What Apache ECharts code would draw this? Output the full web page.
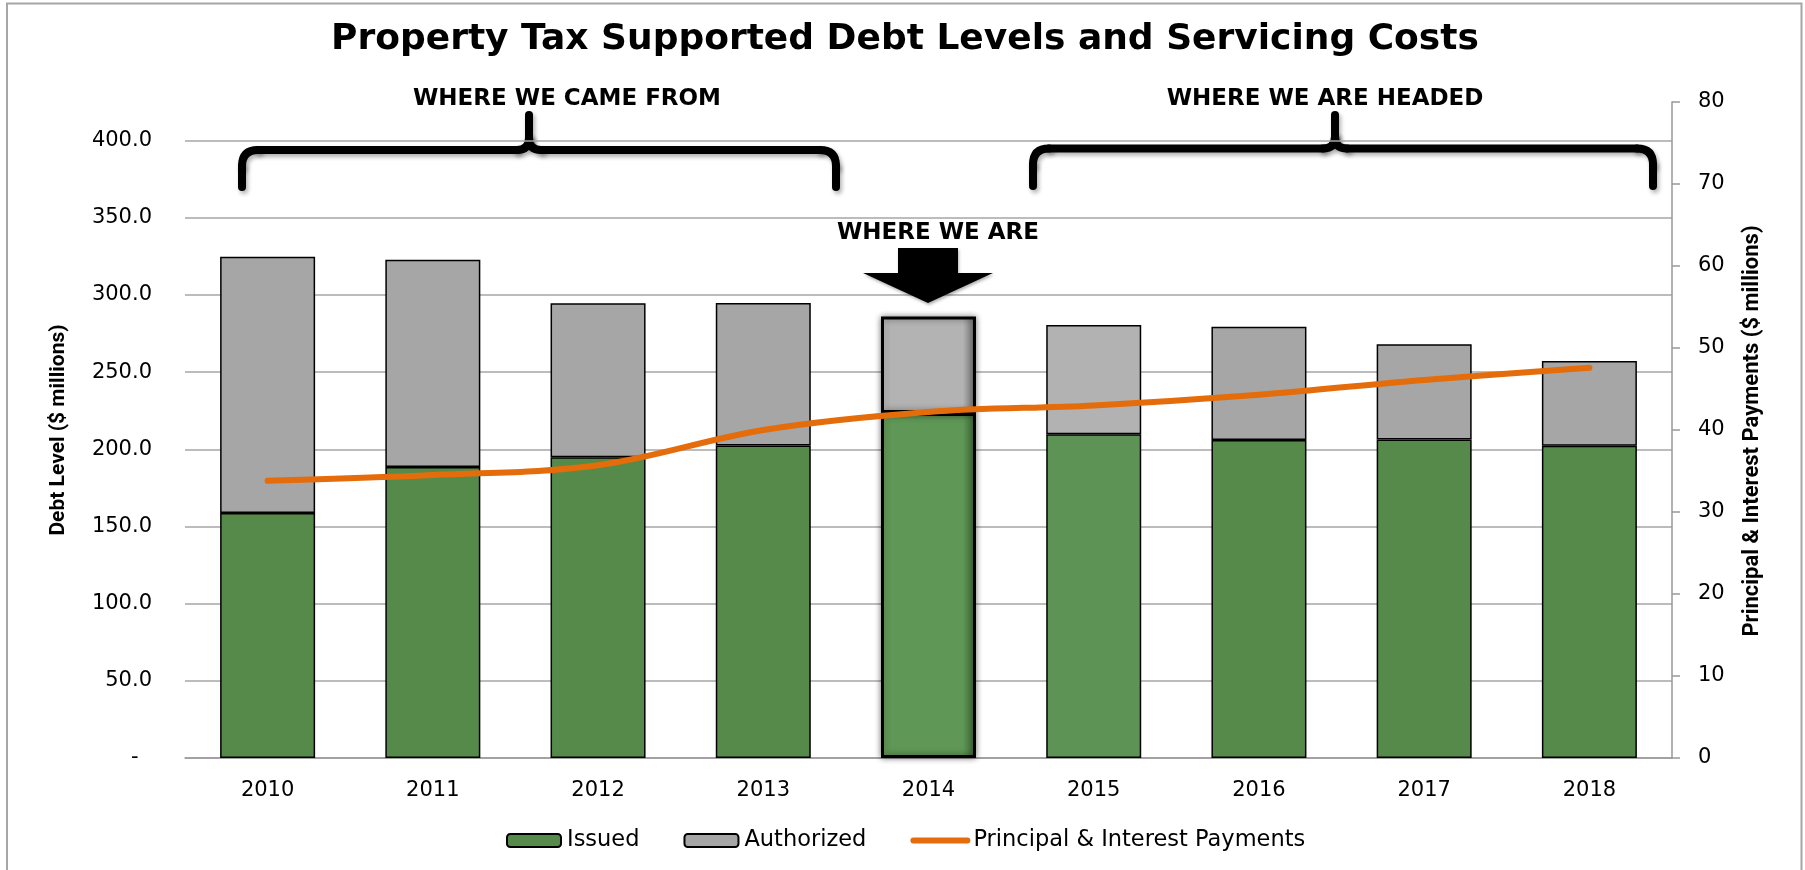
<!DOCTYPE html>
<html>
<head>
<meta charset="utf-8">
<style>
  html, body { margin: 0; padding: 0; background: #fff; }
  #chart { width: 1805px; height: 870px; }
</style>
<script src="https://cdn.jsdelivr.net/npm/echarts@6/dist/echarts.min.js"></script>
</head>
<body>
<div id="chart"></div>
<script>
// Fiscal years shown on the category axis
const years = ['2010', '2011', '2012', '2013', '2014', '2015', '2016', '2017', '2018'];
// Debt issued ($ millions)
const issued = [158.8, 188.6, 194.9, 202.5, 223.5, 209.8, 206.0, 206.4, 202.3];
// Debt authorized but not yet issued ($ millions), stacked on top of issued
const authorized = [166.0, 134.2, 99.7, 92.3, 62.6, 70.7, 73.4, 61.6, 54.9];
// Annual principal & interest payments ($ millions), right axis
const payments = [33.8, 34.5, 35.7, 40.0, 42.2, 43.0, 44.3, 46.1, 47.6];

const currentYear = '2014';
const nextYear = '2015';

const GREEN = '#568a4a';
const GRAY = '#a6a6a6';
const ORANGE = '#e46c0a';
const GRID = '#a6a6a6';
const FONT = 'DejaVu Sans';

function bevel(light, mid, dark) {
  return new echarts.graphic.LinearGradient(0, 0, 1, 0, [
    { offset: 0, color: light },
    { offset: 0.08, color: mid },
    { offset: 0.86, color: mid },
    { offset: 1, color: dark }
  ]);
}

function styledData(values, current, next) {
  return values.map(function (v, i) {
    if (years[i] === currentYear) {
      return { value: v, itemStyle: {
        color: current, borderWidth: 3, borderColor: '#000',
        shadowBlur: 6, shadowColor: 'rgba(0,0,0,0.45)'
      } };
    }
    if (years[i] === nextYear) {
      return { value: v, itemStyle: { color: next } };
    }
    return v;
  });
}

const chart = echarts.init(document.getElementById('chart'), null, { renderer: 'canvas' });

const braceStyle = {
  stroke: '#000', lineWidth: 8, fill: null, lineCap: 'round', lineJoin: 'round',
  shadowBlur: 4, shadowOffsetX: 2, shadowOffsetY: 3, shadowColor: 'rgba(0,0,0,0.3)'
};

// Curly brace built from straight strokes and quadratic corners
function brace(x0, x1, peak, yH, yEnd, yTop) {
  const r = 16, c = 12;
  const seg = function (type, shape) {
    return { type: type, shape: shape, style: braceStyle, silent: true };
  };
  return {
    type: 'group', z: 90, silent: true,
    children: [
      seg('line', { x1: x0, y1: yEnd, x2: x0, y2: yH + r }),
      seg('bezierCurve', { x1: x0, y1: yH + r, cpx1: x0, cpy1: yH, x2: x0 + r, y2: yH }),
      seg('line', { x1: x0 + r, y1: yH, x2: peak - c, y2: yH }),
      seg('bezierCurve', { x1: peak - c, y1: yH, cpx1: peak, cpy1: yH, x2: peak, y2: yH - c }),
      seg('line', { x1: peak, y1: yH - c, x2: peak, y2: yTop }),
      seg('bezierCurve', { x1: peak, y1: yH - c, cpx1: peak, cpy1: yH, x2: peak + c, y2: yH }),
      seg('line', { x1: peak + c, y1: yH, x2: x1 - r, y2: yH }),
      seg('bezierCurve', { x1: x1 - r, y1: yH, cpx1: x1, cpy1: yH, x2: x1, y2: yH + r }),
      seg('line', { x1: x1, y1: yH + r, x2: x1, y2: yEnd })
    ]
  };
}

const boldText = function (text, x, y, size) {
  return {
    type: 'text', x: x, y: y, z: 100, silent: true,
    style: { text: text, fill: '#000', font: 'bold ' + size + 'px "' + FONT + '"',
             align: 'center', verticalAlign: 'middle' }
  };
};

const option = {
  animation: false,
  backgroundColor: '#fff',
  grid: { left: 185, right: 133, top: 102, bottom: 112 },
  legend: {
    data: [
      'Issued',
      'Authorized',
      {
        name: 'Principal & Interest Payments',
        itemStyle: { opacity: 0 },
        lineStyle: { width: 6, cap: 'round', color: ORANGE }
      }
    ],
    left: 501, top: 824,
    itemWidth: 54, itemHeight: 13, itemGap: 44,
    textStyle: { fontFamily: FONT, fontSize: 22.5, color: '#000', padding: [0, 0, 0, 1] }
  },
  xAxis: {
    type: 'category',
    data: years,
    axisLine: { lineStyle: { color: '#999', width: 1.5 } },
    axisTick: { show: false },
    axisLabel: { fontFamily: FONT, fontSize: 21, color: '#000', margin: 22 }
  },
  yAxis: [
    {
      type: 'value', min: 0, max: 425, interval: 50,
      axisLine: { show: false }, axisTick: { show: false },
      axisLabel: {
        fontFamily: FONT, fontSize: 21, color: '#000', margin: 33, showMaxLabel: false,
        formatter: function (v) { return v === 0 ? '-  ' : (v > 400 ? '' : v.toFixed(1)); }
      },
      splitLine: { show: true, showMaxLine: false, lineStyle: { color: GRID, width: 1.5 } }
    },
    {
      type: 'value', min: 0, max: 80, interval: 10, position: 'right',
      axisLine: { show: true, lineStyle: { color: '#999', width: 1.5 } },
      axisTick: { show: true, inside: false, length: 8, lineStyle: { color: '#999', width: 1.5 } },
      axisLabel: { fontFamily: FONT, fontSize: 21, color: '#000', margin: 26 },
      splitLine: { show: false }
    }
  ],
  series: [
    {
      name: 'Issued', type: 'bar', stack: 'debt', barWidth: '57.5%',
      itemStyle: { color: GREEN, borderColor: '#000', borderWidth: 1.5 },
      data: styledData(issued, bevel('#72ab64', '#5f9756', '#3c6535'), '#5d9354')
    },
    {
      name: 'Authorized', type: 'bar', stack: 'debt', barWidth: '57.5%',
      itemStyle: { color: GRAY, borderColor: '#000', borderWidth: 1.5 },
      data: styledData(authorized, bevel('#d2d2d2', '#b3b3b3', '#6e6e6e'), '#b2b2b2')
    },
    {
      name: 'Principal & Interest Payments', type: 'line', yAxisIndex: 1,
      smooth: 0.35, symbol: 'none', z: 5,
      itemStyle: { color: ORANGE },
      lineStyle: { color: ORANGE, width: 6, cap: 'round' },
      data: payments
    }
  ],
  graphic: [
    {
      type: 'rect', z: 0, silent: true,
      shape: { x: 7, y: 3.5, width: 1794.5, height: 880 },
      style: { fill: null, stroke: '#a6a6a6', lineWidth: 2 }
    },
    boldText('Property Tax Supported Debt Levels and Servicing Costs', 905, 40, 36),
    boldText('WHERE WE CAME FROM', 567, 99, 23),
    boldText('WHERE WE ARE HEADED', 1325, 99, 23),
    boldText('WHERE WE ARE', 938, 233.5, 23),
    brace(242, 836, 529, 150, 187, 115),
    brace(1033, 1653, 1335, 148.5, 186, 115),
    {
      type: 'polygon', z: 90, silent: true,
      shape: { points: [[898, 248], [958, 248], [958, 273], [993, 273], [928, 303], [863, 273], [898, 273]] },
      style: { fill: '#000', shadowBlur: 3, shadowOffsetX: 1, shadowOffsetY: 2, shadowColor: 'rgba(0,0,0,0.3)' }
    },
    {
      type: 'text', x: 59, y: 430, rotation: Math.PI / 2, z: 100, silent: true,
      style: { text: 'Debt Level ($ millions)', fill: '#000', font: 'bold 21px Roboto',
               align: 'center', verticalAlign: 'middle' }
    },
    {
      type: 'text', x: 1752, y: 431, rotation: Math.PI / 2, z: 100, silent: true,
      style: { text: 'Principal & Interest Payments ($ millions)', fill: '#000', font: 'bold 22px Roboto',
               align: 'center', verticalAlign: 'middle' }
    }
  ]
};

chart.setOption(option);
</script>
</body>
</html>
